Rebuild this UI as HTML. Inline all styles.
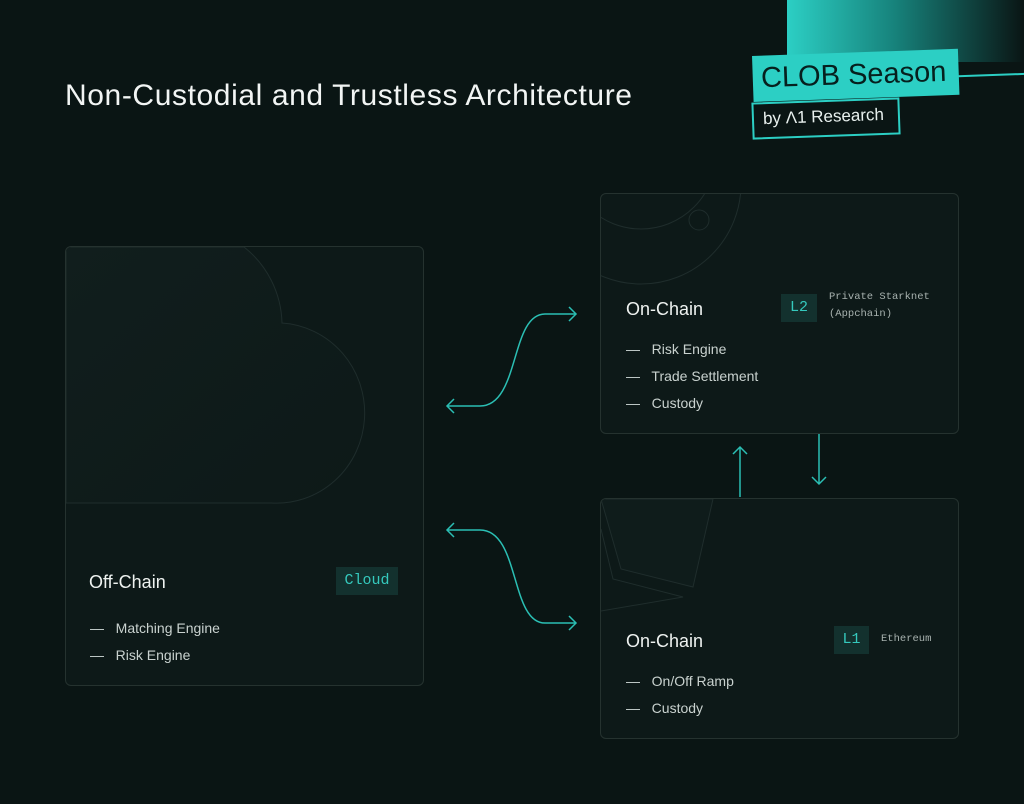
<!DOCTYPE html>
<html><head><style>
body{margin:0;width:1024px;height:804px;background:#0a1514;font-family:"Liberation Sans",sans-serif;position:relative;overflow:hidden;color:#e6ecea}
.card{position:absolute;border:1px solid #25322f;border-radius:6px;background:#0d1918;overflow:hidden}
.t{position:absolute;font-size:18px;color:#eef2f0}
.li{position:absolute;font-size:14px;color:#c9d2cf}
.tag{position:absolute;background:#13312e;color:#35c9bd;font-family:"Liberation Mono",monospace;font-size:15px;text-align:center}
.mono{position:absolute;font-family:"Liberation Mono",monospace;font-size:10.5px;color:#a8b2af;line-height:17px}
</style></head><body>
<div style="position:absolute;left:787px;top:0;width:237px;height:62px;background:linear-gradient(90deg,#2ccfc4 0%,#17837c 45%,#0a1514 100%)"></div>
<div style="position:absolute;left:958px;top:74px;width:70px;height:2px;background:#2ccfc4;transform:rotate(-2deg)"></div>
<div style="position:absolute;left:752px;top:56px;width:206px;height:46px;background:#2ccfc4;transform:rotate(-2deg);transform-origin:left top"></div>
<div style="position:absolute;left:761px;top:59px;font-size:29px;color:#06201e;transform:rotate(-2deg)">CLOB Season</div>
<div style="position:absolute;left:752px;top:100px;width:144px;height:33px;background:#0a1514;border:2px solid #2ccfc4;transform:rotate(-2deg)"></div>
<div style="position:absolute;left:763px;top:107px;font-size:17px;color:#e8f0ee;transform:rotate(-2deg)">by Λ1 Research</div>
<div style="position:absolute;left:65px;top:79px;font-size:30px;letter-spacing:0.6px;color:#f2f5f4">Non-Custodial and Trustless Architecture</div>

<div class="card" style="left:65px;top:246px;width:357px;height:438px">
<svg width="357" height="438" style="position:absolute;left:0;top:0"><defs><linearGradient id="g" x1="0" y1="0" x2="1" y2="1"><stop offset="0" stop-color="#111e1d"/><stop offset="1" stop-color="#0d1918"/></linearGradient></defs><path d="M0 256 H205 A88 90 0 0 0 216 76 A100 100 0 0 0 178 0 H0 Z" fill="url(#g)" stroke="#1f2d2c" stroke-width="1"/></svg>
</div>
<div class="t" style="left:89px;top:572px">Off-Chain</div>
<div class="tag" style="left:336px;top:567px;width:62px;height:28px;line-height:28px">Cloud</div>
<div class="li" style="left:90px;top:620px">—&nbsp;&nbsp; Matching Engine</div>
<div class="li" style="left:90px;top:647px">—&nbsp;&nbsp; Risk Engine</div>

<div class="card" style="left:600px;top:193px;width:357px;height:239px">
<svg width="357" height="239" style="position:absolute;left:0;top:0"><circle cx="40" cy="-10" r="100" fill="none" stroke="#1f2d2c"/><circle cx="40" cy="-40" r="75" fill="none" stroke="#1f2d2c"/><circle cx="98" cy="26" r="10" fill="none" stroke="#1f2d2c"/></svg>
</div>
<div class="t" style="left:626px;top:299px">On-Chain</div>
<div class="tag" style="left:781px;top:294px;width:36px;height:28px;line-height:28px">L2</div>
<div class="mono" style="left:829px;top:289px">Private Starknet<br>(Appchain)</div>
<div class="li" style="left:626px;top:341px">—&nbsp;&nbsp; Risk Engine</div>
<div class="li" style="left:626px;top:368px">—&nbsp;&nbsp; Trade Settlement</div>
<div class="li" style="left:626px;top:395px">—&nbsp;&nbsp; Custody</div>

<div class="card" style="left:600px;top:498px;width:357px;height:239px">
<svg width="357" height="239" style="position:absolute;left:0;top:0"><path d="M0 0 L112 0 L92 88 L20 70 Z" fill="#0f1c1b" stroke="#1f2d2c"/><path d="M0 30 L12 80 L82 98 L0 112" fill="none" stroke="#1f2d2c"/></svg>
</div>
<div class="t" style="left:626px;top:631px">On-Chain</div>
<div class="tag" style="left:834px;top:626px;width:35px;height:28px;line-height:28px">L1</div>
<div class="mono" style="left:881px;top:631px">Ethereum</div>
<div class="li" style="left:626px;top:673px">—&nbsp;&nbsp; On/Off Ramp</div>
<div class="li" style="left:626px;top:700px">—&nbsp;&nbsp; Custody</div>

<svg width="1024" height="804" style="position:absolute;left:0;top:0" fill="none" stroke="#2bbfb4" stroke-width="1.5">
<path d="M447 406 H480 C520 406 510 314 545 314 H576"/><path d="M454 399 L447 406 L454 413"/><path d="M569 307 L576 314 L569 321"/>
<path d="M447 530 H480 C520 530 510 623 545 623 H576"/><path d="M454 523 L447 530 L454 537"/><path d="M569 616 L576 623 L569 630"/>
<path d="M740 497 V447"/><path d="M733 454 L740 447 L747 454"/>
<path d="M819 434 V484"/><path d="M812 477 L819 484 L826 477"/>
</svg>
</body></html>
